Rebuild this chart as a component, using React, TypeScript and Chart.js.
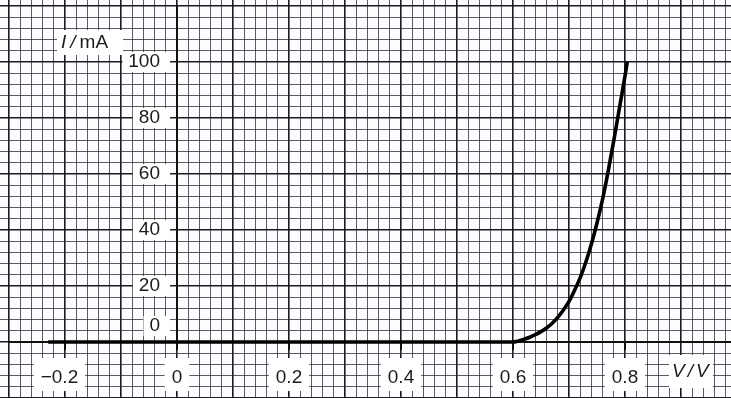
import { useEffect, useRef } from 'react';
import { Chart, registerables } from 'chart.js';

Chart.register(...registerables);

// ---- data ----
const voltage = [
  -0.23, 0.0, 0.2, 0.4, 0.6, 0.61, 0.62, 0.63, 0.64, 0.65, 0.66, 0.67, 0.68, 0.69, 0.7,
  0.71, 0.72, 0.73, 0.74, 0.75, 0.76, 0.77, 0.78, 0.79, 0.8, 0.804,
];
const current = [
  0, 0, 0, 0, 0, 0.4, 1, 1.7, 2.6, 3.7, 5, 6.7, 8.8, 11.4, 14.5,
  18.5, 23, 28.5, 35, 42.5, 51, 61, 72, 83.5, 95, 100,
];

const xTickValues = [-0.2, 0, 0.2, 0.4, 0.6, 0.8];
const xTickLabels = ['−0.2', '0', '0.2', '0.4', '0.6', '0.8'];
const yTickValues = [0, 20, 40, 60, 80, 100];
const yTickLabels = ['0', '20', '40', '60', '80', '100'];

const X_MIN = -177 / 560;
const X_MAX = 554 / 560;
const Y_MIN = -20;
const Y_MAX = 342 / 2.8;

const FONT_FAMILY = '"Liberation Sans", Arial, Helvetica, sans-serif';
const TEXT_COLOR = '#1c1c1c';

function isMajor(v: number, step: number) {
  const r = v / step;
  return Math.abs(r - Math.round(r)) < 1e-6;
}

const paperPlugin = {
  id: 'paper',
  beforeDraw(chart: any) {
    const { ctx, width, height } = chart;
    ctx.save();
    ctx.fillStyle = '#fdfdff';
    ctx.fillRect(0, 0, width, height);
    ctx.restore();
  },
  beforeDatasetsDraw(chart: any) {
    const { ctx, scales, chartArea } = chart;
    const x = scales.x;
    const y = scales.y;
    const x0 = Math.round(x.getPixelForValue(0));
    const y0 = Math.round(y.getPixelForValue(0));
    const xLeft = x.getPixelForValue(-0.3);
    const yTop = y.getPixelForValue(120);
    ctx.save();
    ctx.strokeStyle = '#111';
    ctx.lineWidth = 2;
    ctx.beginPath();
    ctx.moveTo(xLeft, y0);
    ctx.lineTo(chartArea.right, y0);
    ctx.moveTo(x0, yTop);
    ctx.lineTo(x0, y0 + 8);
    for (const v of xTickValues) {
      const px = Math.round(x.getPixelForValue(v));
      ctx.moveTo(px, y0);
      ctx.lineTo(px, y0 + 8);
    }
    ctx.stroke();
    ctx.restore();
  },
  afterDatasetsDraw(chart: any) {
    const { ctx, scales } = chart;
    const x = scales.x;
    const y = scales.y;
    const x0 = x.getPixelForValue(0);
    const y0 = y.getPixelForValue(0);
    const upright = `19px ${FONT_FAMILY}`;
    const italic = `italic 19px ${FONT_FAMILY}`;
    ctx.save();
    ctx.textBaseline = 'middle';

    const box = (l: number, t: number, r: number, b: number) => {
      ctx.fillStyle = '#ffffff';
      ctx.fillRect(l, t, r - l, b - t);
    };

    ctx.font = upright;
    xTickLabels.forEach((lab, i) => {
      const px = x.getPixelForValue(xTickValues[i]);
      const cy = y0 + 36;
      let left: number;
      let right: number;
      if (lab.startsWith('−')) {
        const rest = lab.slice(1);
        const wr = ctx.measureText(rest).width;
        const wf = ctx.measureText(lab).width;
        right = px + wr / 2;
        left = right - wf;
      } else {
        const w = ctx.measureText(lab).width;
        left = px - w / 2;
        right = px + w / 2;
      }
      box(left - 7, y0 + 16, right + 7, y0 + 49);
      ctx.fillStyle = TEXT_COLOR;
      ctx.textAlign = 'left';
      ctx.fillText(lab, left, cy);
    });

    yTickLabels.forEach((lab, i) => {
      const v = yTickValues[i];
      let cy = y.getPixelForValue(v);
      if (v === 0) cy -= 16;
      const w = ctx.measureText(lab).width;
      const right = x0 - 17;
      box(right - w - 6, cy - 10, x0 - 7, cy + 10);
      ctx.fillStyle = TEXT_COLOR;
      ctx.textAlign = 'right';
      ctx.fillText(lab, right, cy);
    });

    const drawPieces = (pieces: [string, string][], startX: number, cy: number, gap: number) => {
      let cx = startX;
      ctx.textAlign = 'left';
      ctx.fillStyle = TEXT_COLOR;
      for (const [txt, f] of pieces) {
        ctx.font = f;
        ctx.fillText(txt, cx, cy);
        cx += ctx.measureText(txt).width + gap;
      }
      return cx - gap;
    };

    const iy = y.getPixelForValue(100) - 19;
    box(x0 - 120, iy - 13, x0 - 54, iy + 12);
    drawPieces([['I', italic], ['/', italic], ['mA', upright]], x0 - 116, iy, 4);

    const vx = x.getPixelForValue(0.8) + 47;
    const vy = y0 + 30;
    box(vx - 3, y0 + 13, vx + 41, y0 + 46);
    drawPieces([['V', italic], ['/', italic], ['V', italic]], vx, vy, 3);

    ctx.restore();
  },
};

export default function App() {
  const canvasRef = useRef<HTMLCanvasElement | null>(null);

  useEffect(() => {
    document.body.style.margin = '0';
    const canvas = canvasRef.current;
    if (!canvas) return;

    const gridColor = (step: number) => (c: any) =>
      isMajor(c.tick.value, step) ? 'rgba(15,15,20,0.95)' : 'rgba(45,45,55,0.78)';
    const gridWidth = (step: number) => (c: any) => (isMajor(c.tick.value, step) ? 1.6 : 1);

    const chart = new Chart(canvas, {
      type: 'line',
      data: {
        datasets: [
          {
            data: voltage.map((v, i) => ({ x: v, y: current[i] })),
            borderColor: '#000',
            borderWidth: 3.6,
            pointRadius: 0,
            fill: false,
            cubicInterpolationMode: 'monotone',
          },
        ],
      },
      options: {
        responsive: false,
        animation: false,
        layout: { padding: 0 },
        plugins: {
          legend: { display: false },
          tooltip: { enabled: false },
          title: { display: false },
        },
        scales: {
          x: {
            type: 'linear',
            min: X_MIN,
            max: X_MAX,
            ticks: { display: false, stepSize: 0.02, includeBounds: false, autoSkip: false },
            grid: { drawTicks: false, tickLength: 0, color: gridColor(0.1), lineWidth: gridWidth(0.1) },
            border: { display: false },
          },
          y: {
            type: 'linear',
            min: Y_MIN,
            max: Y_MAX,
            ticks: { display: false, stepSize: 4, includeBounds: false, autoSkip: false },
            grid: { drawTicks: false, tickLength: 0, color: gridColor(20), lineWidth: gridWidth(20) },
            border: { display: false },
          },
        },
      },
      plugins: [paperPlugin],
    } as any);

    return () => chart.destroy();
  }, []);

  return (
    <div style={{ width: 731, height: 398 }}>
      <canvas ref={canvasRef} width={731} height={398} style={{ display: 'block' }} />
    </div>
  );
}
